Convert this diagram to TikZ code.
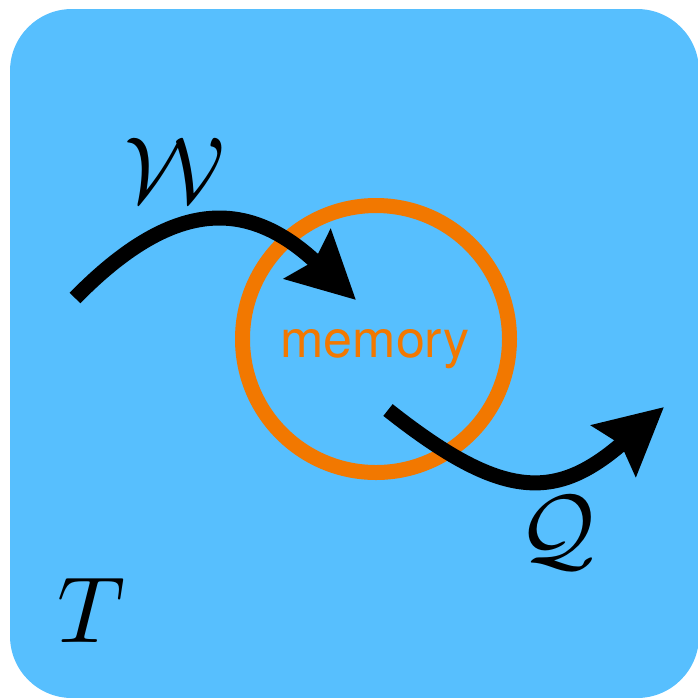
\documentclass[tikz,border=0pt]{standalone}
\usepackage{fontspec}
\newfontfamily\helv{TeX Gyre Heros}
\usetikzlibrary{arrows.meta}
\definecolor{bgblue}{RGB}{87,191,254}
\definecolor{memorange}{RGB}{242,120,0}
\tikzset{
  flow/.style={line width=15pt, black, -{Stealth[length=66pt,width=66pt,inset=9pt]}},
  mathlabel/.style={scale=9.4, inner sep=0pt, anchor=base},
}
\begin{document}
\begin{tikzpicture}[x=1pt,y=-1pt]
\useasboundingbox (0,0) rectangle (698,697);
\fill[bgblue, rounded corners=62pt] (10,9) rectangle (699,698);
\node[circle, draw=memorange, line width=15pt, minimum size=267pt, inner sep=0pt] (mem) at (376,339) {};
\node[anchor=base, text=memorange, inner sep=0pt, font=\helv\fontsize{52}{52}\selectfont] (memtext) at (375,357) {memory};
\coordinate (wstart) at (75,298);
\coordinate (wend) at (356,300);
\draw[flow] (wstart) .. controls (173,198) and (248,198) .. (wend);
\coordinate (qstart) at (388,410);
\coordinate (qend) at (664,407);
\draw[flow] (qstart) .. controls (503,501) and (556,501) .. (qend);
\node[mathlabel] (W) at (175,202) {$\mathcal{W}$};
\node[mathlabel] (Q) at (557,560) {$\mathcal{Q}$};
\node[mathlabel] (T) at (91,642) {$T$};
\end{tikzpicture}
\end{document}
